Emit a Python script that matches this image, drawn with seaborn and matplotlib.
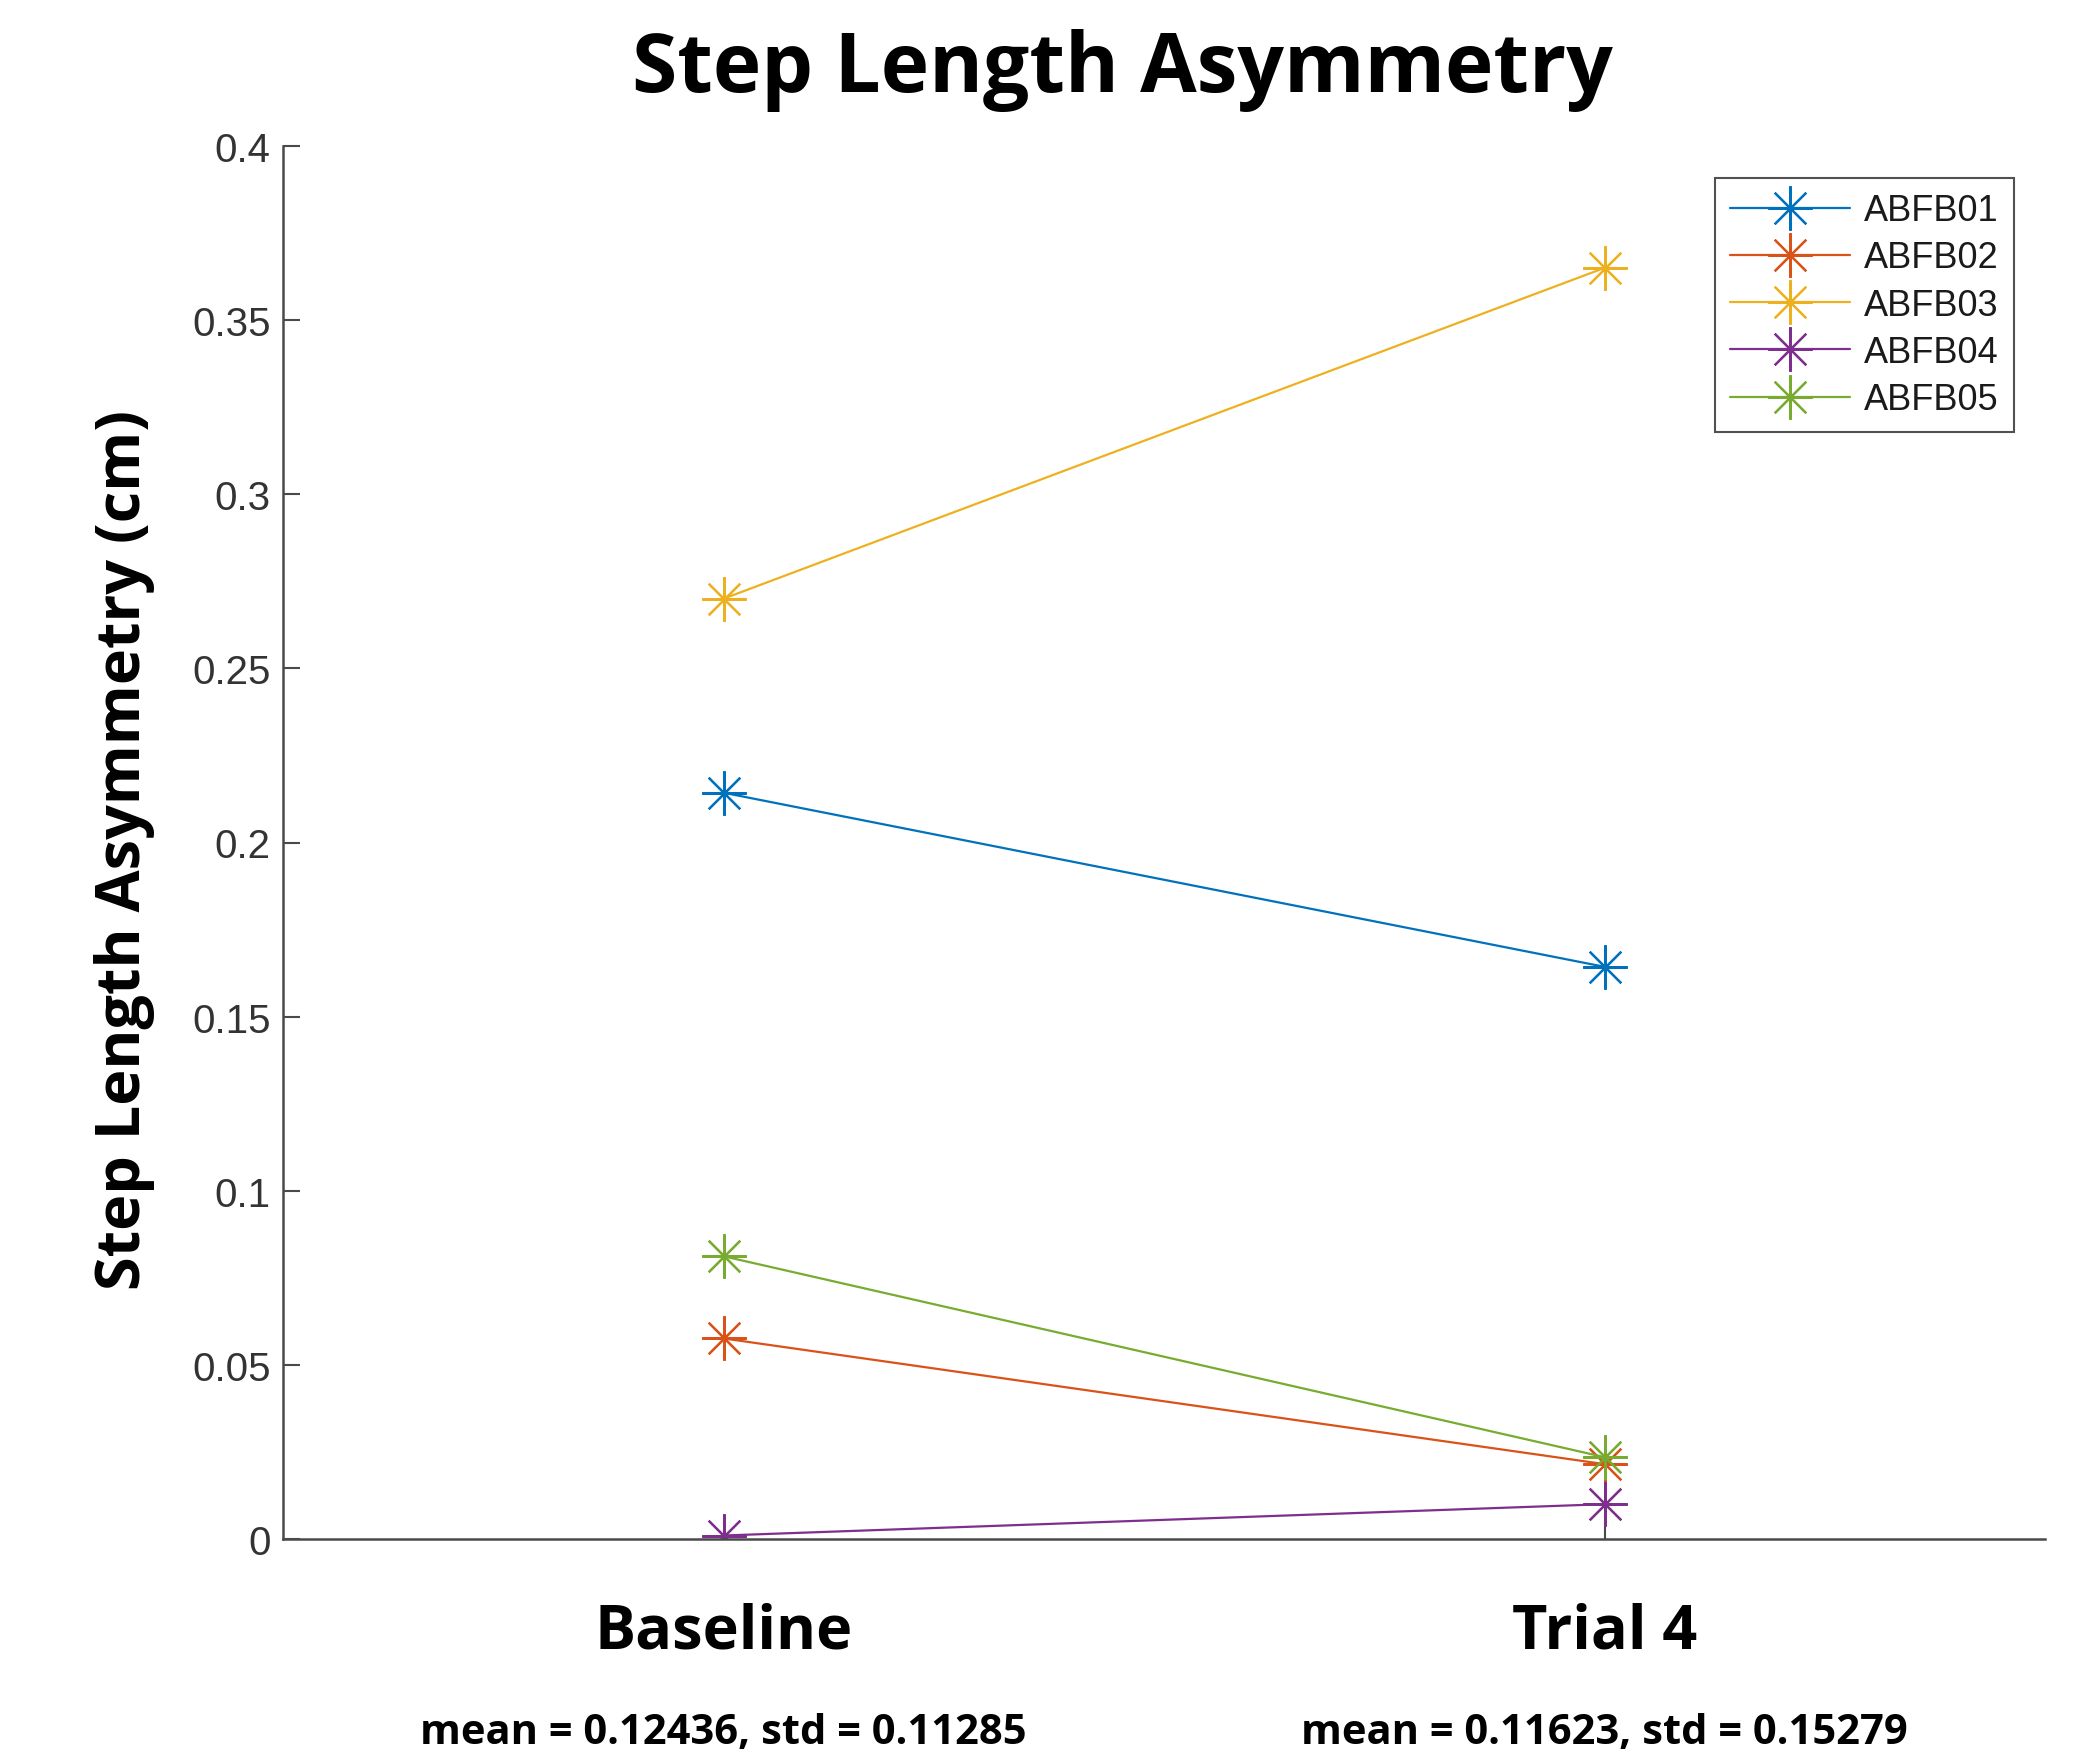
import numpy as np
import pandas as pd
import matplotlib
matplotlib.use("Agg")
import matplotlib.pyplot as plt
import matplotlib.transforms as mtransforms
from matplotlib.ticker import FuncFormatter
import seaborn as sns

# ---- data ----
subjects = ["ABFB01", "ABFB02", "ABFB03", "ABFB04", "ABFB05"]
conditions = ["Baseline", "Trial 4"]
baseline_vals = [0.2143, 0.0576, 0.2700, 0.0010, 0.0812]
trial4_vals = [0.1643, 0.0215, 0.3650, 0.0100, 0.0235]
summary_labels = ["mean = 0.12436, std = 0.11285", "mean = 0.11623, std = 0.15279"]
colors = ["#0072BD", "#D95319", "#EDB120", "#7E2F8E", "#77AC30"]

rows = []
for s, b, t in zip(subjects, baseline_vals, trial4_vals):
    rows.append({"subject": s, "x": 1, "value": b})
    rows.append({"subject": s, "x": 2, "value": t})
df = pd.DataFrame(rows)

sns.set_theme(style="white")
plt.rcParams["font.family"] = ["Liberation Sans", "DejaVu Sans"]

W, H = 2082, 1758
fig = plt.figure(figsize=(W / 100, H / 100), dpi=100)
ax = fig.add_axes([283 / W, 1 - 1540 / H, (2045 - 283) / W, (1540 - 147) / H])

sns.lineplot(data=df, x="x", y="value", hue="subject", hue_order=subjects,
             palette=colors, marker=(8, 2, 0), markersize=32, mew=1.6,
             linewidth=1.6, legend=False, ax=ax)

handles = ax.get_lines()[:len(subjects)]
for ln in handles:
    ln.set_markeredgecolor(ln.get_color())
    ln.set_markerfacecolor(ln.get_color())

ax.set_xlim(0.5, 2.5)
ax.set_ylim(0, 0.4)
ax.set_yticks(np.arange(0, 0.401, 0.05))
ax.yaxis.set_major_formatter(FuncFormatter(lambda v, p: f"{v:g}"))
ax.set_xticks([1, 2])
ax.set_xticklabels(["", ""])
ax.set_xlabel("")
ax.set_ylabel("")
spine_c = "#4a4a4a"
for side in ["top", "right"]:
    ax.spines[side].set_visible(False)
for side in ["left", "bottom"]:
    ax.spines[side].set_color(spine_c)
    ax.spines[side].set_linewidth(1.8)
ax.tick_params(axis="both", direction="in", length=12, width=1.5, color=spine_c,
               labelsize=29, labelcolor="#333333", pad=9)
ax.tick_params(axis="y", left=True)
ax.tick_params(axis="x", bottom=True)

leg = ax.legend(handles, subjects, loc="upper right",
                bbox_to_anchor=(2014 / W, 1 - 179 / H), bbox_transform=fig.transFigure,
                borderaxespad=0, fontsize=26, frameon=True, fancybox=False,
                edgecolor="#262626", handlelength=3.3, handletextpad=0.4,
                labelspacing=0.34, borderpad=0.42, markerscale=1.0)
leg.get_frame().set_linewidth(1.5)
for t in leg.get_texts():
    t.set_color("#1a1a1a")

bold = dict(family=["Open Sans", "DejaVu Sans"], weight="bold", color="black")
fig.text(1122 / W, 1 - 70 / H, "Step Length Asymmetry", ha="center", va="center",
         fontsize=59, **bold)
fig.text(125 / W, 1 - 850 / H, "Step Length Asymmetry (cm)", ha="center", va="center",
         rotation=90, fontsize=44, **bold)

trans = mtransforms.blended_transform_factory(ax.transData, fig.transFigure)
for xi, (cond, summ) in enumerate(zip(conditions, summary_labels), start=1):
    ax.text(xi, 1 - 1633 / H, cond, transform=trans, ha="center", va="center",
            fontsize=44, **bold)
    ax.text(xi, 1 - 1734 / H, summ, transform=trans, ha="center", va="center",
            fontsize=30, **bold)

fig.savefig("out.png", dpi=100, facecolor="white")
